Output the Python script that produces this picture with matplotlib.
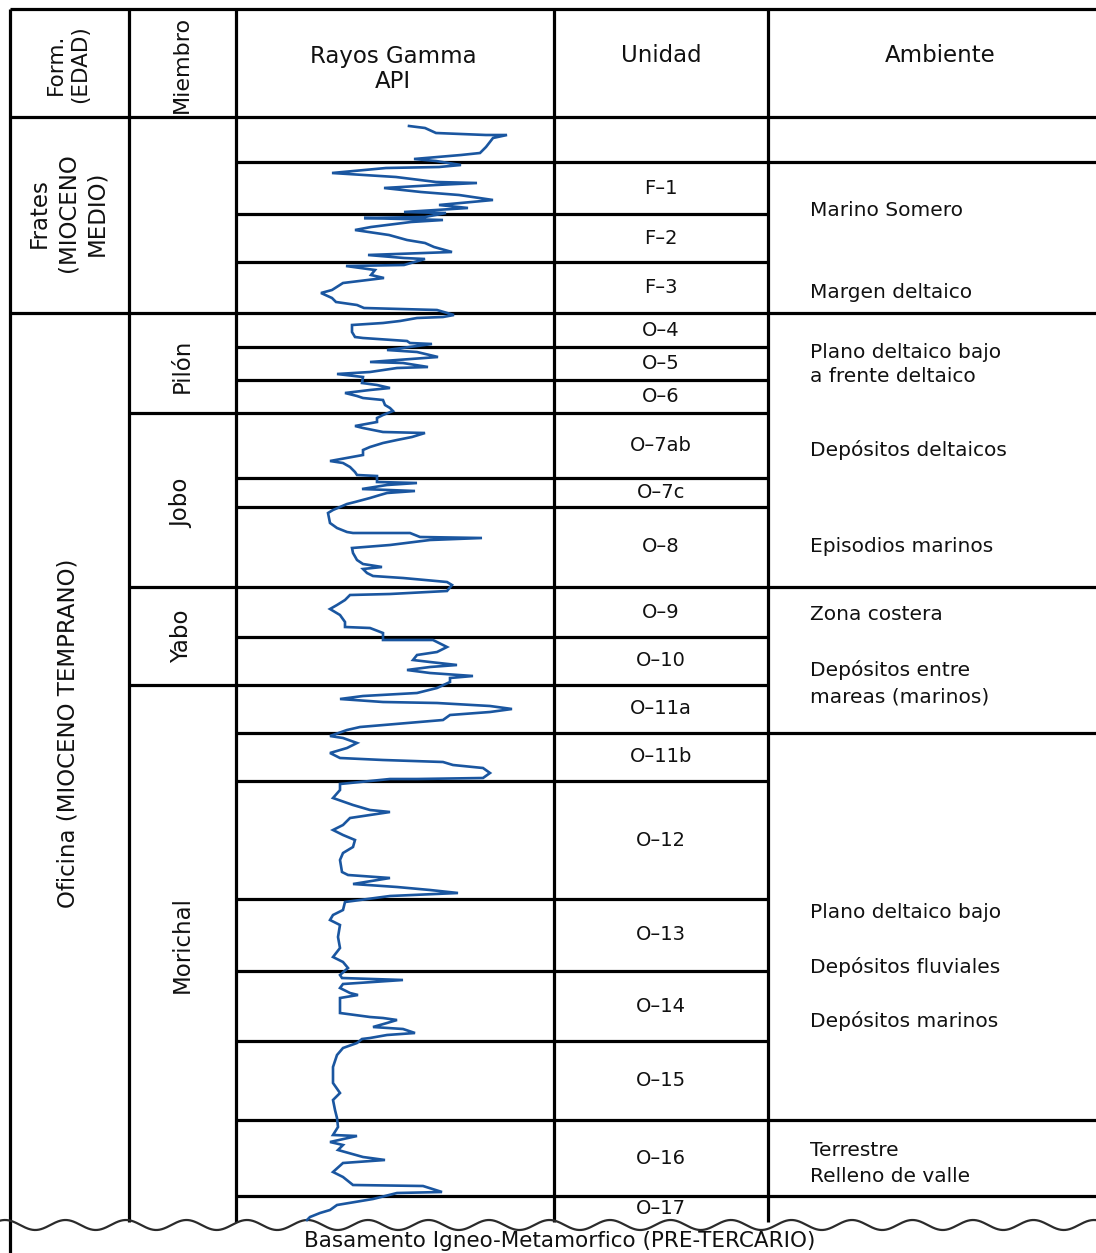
import matplotlib.pyplot as plt
import numpy as np

# table frame (column edges, header and base of the column)
col_edges = [10, 129, 236, 554, 768, 1096]
top_edge, head_bottom, base_depth = 9, 117, 1222

# units: top of each interval, shared by Rayos Gamma and Unidad columns
unit_tops = [117, 162, 214, 262, 313, 347, 380, 413, 478, 507, 587, 637,
             685, 733, 781, 899, 971, 1041, 1120, 1196]
unit_names = ["", "F–1", "F–2", "F–3", "O–4", "O–5", "O–6", "O–7ab", "O–7c",
              "O–8", "O–9", "O–10", "O–11a", "O–11b", "O–12", "O–13", "O–14",
              "O–15", "O–16", "O–17"]

# members (Miembro column)
member_names = ["", "Pilón", "Jobo", "Yabo", "Morichal"]
member_tops = [117, 313, 413, 587, 685]
member_label_depth = [215, 366, 503, 636, 945]

# formations (Form. column)
formation_names = ["Frates\n(MIOCENO\nMEDIO)", "Oficina (MIOCENO TEMPRANO)"]
formation_tops = [117, 313]
formation_label_depth = [213, 733]

# depositional environments
env_breaks = [162, 313, 587, 733, 1120, 1196]
env_labels = ["Marino Somero", "Margen deltaico", "Plano deltaico bajo",
              "a frente deltaico", "Depósitos deltaicos", "Episodios marinos",
              "Zona costera", "Depósitos entre", "mareas (marinos)",
              "Plano deltaico bajo", "Depósitos fluviales", "Depósitos marinos",
              "Terrestre", "Relleno de valle"]
env_depth = [211, 292, 353, 377, 450, 547, 615, 670, 697, 912, 967, 1021,
             1150, 1177]

# gamma-ray log: depth and reading across the track
gr_depth = [126, 128, 133, 135, 135, 138, 147, 153, 155, 159, 161,
            165, 167, 168, 173, 177, 182, 183, 185, 188, 192, 195, 200, 205, 208, 212, 213,
            217, 218, 220, 222, 227, 230, 235, 240, 243, 247, 252, 255, 258, 259,
            265, 266, 270, 275, 278, 283, 290, 293, 298, 302, 305, 308, 310, 315,
            317, 318, 321, 323, 325, 332, 337, 338, 341, 343, 344,
            350, 352, 357, 362, 363, 367, 368, 372, 374, 377,
            383, 385, 388, 390, 393, 396, 398, 400, 405, 408, 411,
            415, 418, 422, 426, 428, 432, 433, 437, 440, 443, 447, 450, 455, 461, 463, 467, 472, 475, 476,
            482, 483, 485, 489, 491, 493, 495, 498, 502, 504,
            510, 513, 523, 528, 532, 533, 533, 537, 538, 540, 545, 548, 553, 560, 564, 567, 569, 573, 576, 578, 582, 585,
            591, 594, 595, 600, 605, 609, 615, 622, 627, 628, 633,
            640, 640, 647, 652, 655, 660, 662, 665, 667, 670, 673, 676, 678, 682,
            688, 693, 696, 699, 702, 703, 706, 709, 712, 715, 720, 723, 727, 730,
            736, 738, 743, 748, 753, 758, 760, 762, 765, 768, 773, 778, 779, 779,
            784, 790, 798, 805, 810, 812, 815, 818, 825, 830, 835, 840, 847, 853, 860, 872, 875, 878, 884, 887, 890, 893, 896,
            902, 910, 915, 920, 925, 937, 948, 957, 962, 968,
            975, 978, 980, 984, 988, 993, 995, 998, 1013, 1017, 1018, 1020, 1023, 1027, 1029, 1033, 1035, 1038, 1039,
            1043, 1048, 1055, 1067, 1083, 1093, 1100, 1110, 1118,
            1127, 1135, 1136, 1142, 1145, 1150, 1157, 1160, 1163, 1172, 1177, 1185, 1186, 1192, 1193,
            1199, 1205, 1210, 1213, 1217, 1220]
gr_api = [173, 189, 200, 250, 271, 257, 250, 244, 225, 178, 200,
          225, 203, 150, 96, 160, 200, 241, 200, 148, 185, 223, 257, 203, 232, 168, 210,
          189, 128, 207, 175, 135, 119, 153, 171, 189, 198, 216, 132, 168, 189,
          168, 110, 139, 135, 148, 107, 96, 85, 96, 100, 121, 128, 201, 218,
          207, 181, 164, 147, 116, 116, 119, 127, 171, 174, 196,
          151, 181, 202, 134, 167, 192, 161, 134, 101, 127,
          126, 141, 154, 134, 109, 121, 127, 147, 149, 154, 157,
          147, 141, 141, 119, 127, 147, 189, 176, 161, 147, 134, 127, 127, 94, 107, 114, 119, 121, 141,
          141, 181, 151, 126, 179, 151, 144, 134, 119, 111,
          97, 92, 94, 101, 111, 117, 174, 184, 246, 194, 154, 116, 117, 121, 127, 146, 127, 131, 137, 167, 211, 216,
          211, 154, 114, 109, 101, 94, 104, 109, 109, 134, 147,
          147, 197, 211, 201, 181, 177, 194, 221, 194, 171, 194, 237, 214, 214,
          201, 181, 127, 104, 147, 201, 254, 276, 254, 214, 207, 171, 124, 111,
          94, 107, 121, 111, 94, 104, 147, 207, 217, 247, 254, 247, 181, 154,
          104, 104, 97, 117, 134, 154, 134, 114, 107, 97, 107, 119, 117, 107, 104, 106, 112, 154, 117, 161, 194, 222, 154,
          109, 107, 97, 94, 104, 102, 104, 97, 107, 112,
          104, 106, 167, 107, 104, 114, 122, 104, 104, 134, 147, 161, 151, 137, 167, 179, 151, 134, 126,
          121, 107, 101, 97, 97, 104, 97, 99, 101,
          102, 97, 121, 94, 107, 102, 127, 149, 107, 97, 107, 117, 187, 206, 161,
          137, 101, 94, 84, 74, 71]

LINE = dict(color="black", linewidth=2.3)
TXT = dict(color="#111111", family="DejaVu Sans")

fig = plt.figure(figsize=(10.96, 12.53), dpi=100)
ax = fig.add_axes([0, 0, 1, 1])
ax.set_xlim(0, 1096)
ax.set_ylim(1253, 0)
ax.axis("off")

x_form, x_memb, x_gr, x_unit, x_env, x_right = col_edges

# outer frame and column separators
ax.hlines([top_edge, head_bottom], x_form, x_right, **LINE)
ax.vlines(x_form, top_edge, 1253, **LINE)
ax.vlines([x_memb, x_gr, x_unit, x_env], top_edge, base_depth, **LINE)

# formation, member, unit and environment boundaries
ax.hlines(formation_tops[1:], x_form, x_memb, **LINE)
ax.hlines(member_tops[1:], x_memb, x_gr, **LINE)
ax.hlines(unit_tops[1:], x_gr, x_env, **LINE)
ax.hlines(env_breaks, x_env, x_right, **LINE)

# unconformity at the base
wx = np.linspace(0, 1096, 2000)
ax.plot(wx, 1225 - 5 * np.cos(2 * np.pi * (wx - 5) / 60.5), color="#2b2b2b", lw=1.6)
ax.text(560, 1241, "Basamento Igneo-Metamorfico (PRE-TERCARIO)", ha="center",
        va="center", fontsize=15.5, **TXT)

# header
ax.text(68, 64, "Form.\n(EDAD)", rotation=90, ha="center", va="center",
        multialignment="center", fontsize=15.5, linespacing=1.25, **TXT)
ax.text(182, 64, "Miembro", rotation=90, ha="center", va="center", fontsize=16, **TXT)
ax.text(393, 69, "Rayos Gamma\nAPI", ha="center", va="center", fontsize=16.5,
        linespacing=1.12, **TXT)
ax.text(661, 55, "Unidad", ha="center", va="center", fontsize=16.5, **TXT)
ax.text(940, 55, "Ambiente", ha="center", va="center", fontsize=16.5, **TXT)

# formation and member names
for name, yc in zip(formation_names, formation_label_depth):
    ax.text(68, yc, name, rotation=90, ha="center", va="center",
            multialignment="center", fontsize=16.5, linespacing=1.3, **TXT)
for name, yc in zip(member_names, member_label_depth):
    ax.text(182, yc, name, rotation=90, ha="center", va="center", fontsize=16.5, **TXT)

# unit labels, centred in each interval
unit_bottoms = unit_tops[1:] + [base_depth]
for name, t, b in zip(unit_names, unit_tops, unit_bottoms):
    ax.text((x_unit + x_env) / 2, (t + b) / 2, name, ha="center", va="center",
            fontsize=14, **TXT)

# environment notes
for label, yc in zip(env_labels, env_depth):
    ax.text(810, yc, label, ha="left", va="center", fontsize=14.5, **TXT)

# gamma-ray curve
ax.plot(np.array(gr_api) + x_gr, gr_depth, color="#1a56a0", lw=1.9,
        solid_joinstyle="miter")

fig.savefig("out.png", dpi=100)
